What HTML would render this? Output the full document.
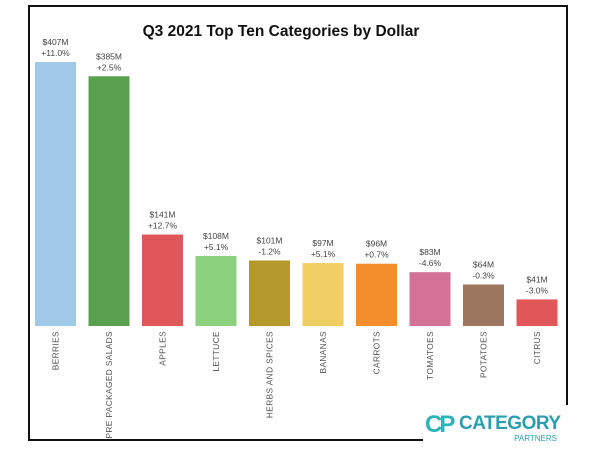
<!DOCTYPE html>
<html><head><meta charset="utf-8"><style>
body{margin:0;background:#fff;width:600px;height:450px;overflow:hidden;font-family:"Liberation Sans",sans-serif}
</style></head><body>
<svg width="600" height="450">
<rect x="29" y="6" width="538" height="434" fill="#fff" stroke="#111" stroke-width="2"/>
<text x="281" y="36" text-anchor="middle" font-size="15.5" font-weight="bold" fill="#111">Q3 2021 Top Ten Categories by Dollar</text>
<g id="bars"></g>
<g>
<rect x="423" y="405" width="150" height="45" fill="#fff"/>
<text x="425" y="432" font-size="24" font-weight="bold" fill="#2ab5b8" letter-spacing="-3">CP</text>
<text x="459" y="429" font-size="19" font-weight="bold" fill="#2a9fb0" letter-spacing="-0.5">CATEGORY</text>
<text x="557" y="441" font-size="8" text-anchor="end" fill="#2a9fb0">PARTNERS</text>
</g>
</svg>
<script>
const categories=["BERRIES","PRE PACKAGED SALADS","APPLES","LETTUCE","HERBS AND SPICES","BANANAS","CARROTS","TOMATOES","POTATOES","CITRUS"];
const values=[407,385,141,108,101,97,96,83,64,41];
const changes=["+11.0%","+2.5%","+12.7%","+5.1%","-1.2%","+5.1%","+0.7%","-4.6%","-0.3%","-3.0%"];
const colors=["#a0c9e8","#59a14f","#e15759","#8cd17d","#b6992d","#f1ce63","#f28e2b","#d37295","#9d7660","#e15759"];
const base=326,k=264/407,x0=35,step=53.5,bw=41;
const y=v=>base-v*k, x=i=>x0+i*step;
const g=document.getElementById('bars'),NS="http://www.w3.org/2000/svg";
categories.forEach((c,i)=>{
 const r=document.createElementNS(NS,'rect');
 r.setAttribute('x',x(i));r.setAttribute('y',y(values[i]));r.setAttribute('width',bw);r.setAttribute('height',values[i]*k);r.setAttribute('fill',colors[i]);
 
 
 g.appendChild(r);
 const cx=x(i)+bw/2;
 const t1=document.createElementNS(NS,'text');
 t1.setAttribute('x',cx);t1.setAttribute('y',y(values[i])-17);t1.setAttribute('text-anchor','middle');t1.setAttribute('font-size','8.5');t1.setAttribute('fill','#444');
 t1.textContent='$'+values[i]+'M';
 
 
 g.appendChild(t1);
 const t2=document.createElementNS(NS,'text');
 t2.setAttribute('x',cx);t2.setAttribute('y',y(values[i])-6);t2.setAttribute('text-anchor','middle');t2.setAttribute('font-size','8.5');t2.setAttribute('fill','#444');
 t2.textContent=changes[i];
 
 
 g.appendChild(t2);
 const t3=document.createElementNS(NS,'text');
 t3.setAttribute('transform','translate('+(cx+3)+',331) rotate(-90)');t3.setAttribute('text-anchor','end');t3.setAttribute('font-size','8.3');t3.setAttribute('letter-spacing','0.4');t3.setAttribute('fill','#555');
 t3.textContent=c;
 
 
 g.appendChild(t3);
});
</script>
</body></html>
